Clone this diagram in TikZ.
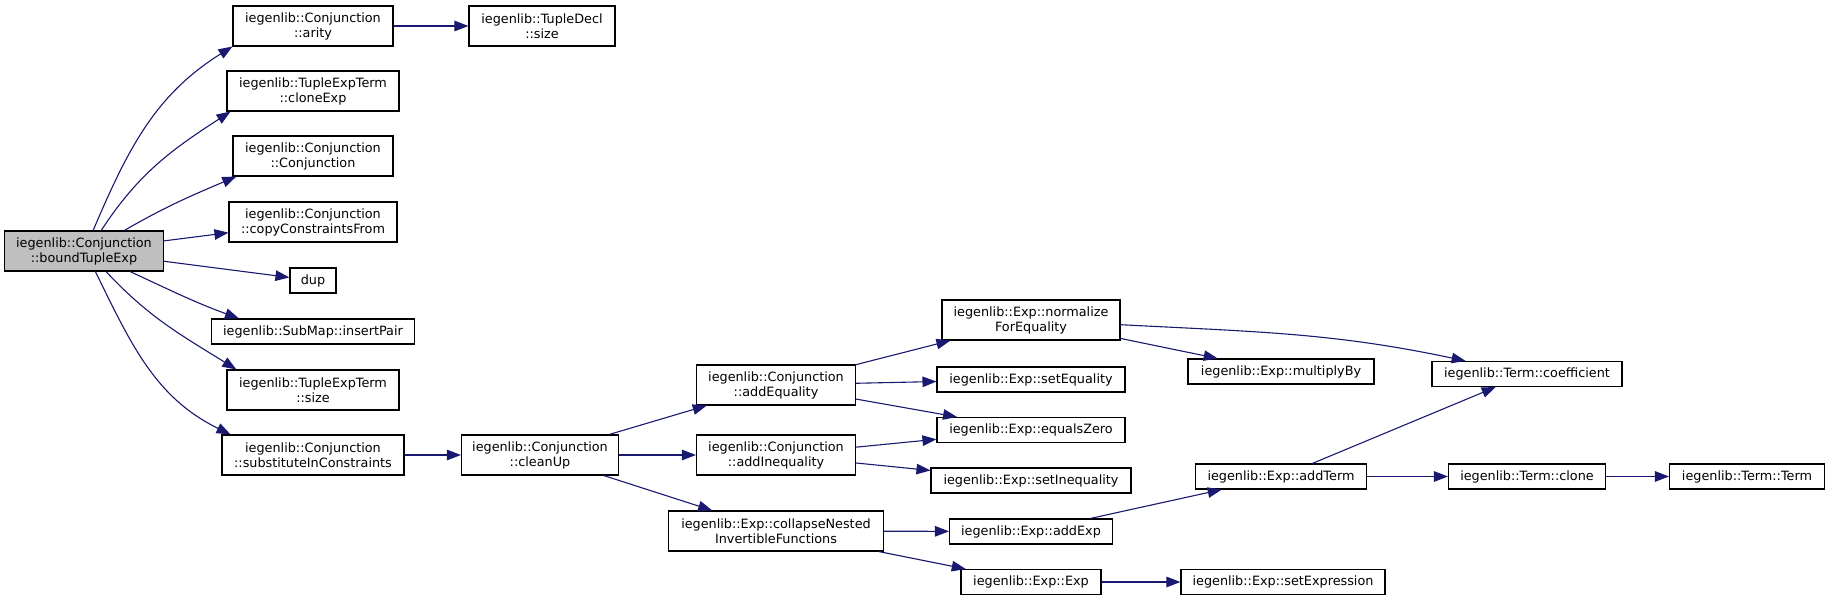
\documentclass[tikz,border=0pt]{standalone}
\usepackage{fontspec}
\setmainfont{DejaVu Sans}
\usetikzlibrary{arrows.meta}
\definecolor{edgeBlue}{RGB}{25,25,112}
\definecolor{curFill}{RGB}{191,191,191}

\begin{document}
\begin{tikzpicture}[
  x=1pt,y=1pt,
  font=\fontsize{12.8}{15}\selectfont,
  fn/.style={draw=black,line width=1.1pt,fill=white,align=center,
             inner sep=0pt,minimum height=25pt},
  fn2/.style={fn,minimum height=40pt},
  cur/.style={fn2,fill=curFill},
  call/.style={draw=edgeBlue,line width=1.1pt,
               -{Triangle[length=14pt,width=10.5pt]}}
]
\useasboundingbox (0,0) rectangle (1831,-601);

% ==========  caller (left)  ==========
\node[cur,minimum width=159pt] (bound) at (84,-251)
  {iegenlib::Conjunction\\::boundTupleExp};

% ==========  column 1  ==========
\node[fn2,minimum width=160pt] (arity)   at (313,-26)  {iegenlib::Conjunction\\::arity};
\node[fn2,minimum width=172pt] (clone)   at (313,-91)  {iegenlib::TupleExpTerm\\::cloneExp};
\node[fn2,minimum width=160pt] (conj)    at (313,-156) {iegenlib::Conjunction\\::Conjunction};
\node[fn2,minimum width=168pt] (copy)    at (313,-222) {iegenlib::Conjunction\\::copyConstraintsFrom};
\node[fn,minimum width=46pt]   (dup)     at (313,-280.5) {dup};
\node[fn,minimum width=203pt]  (insert)  at (313,-331.5) {iegenlib::SubMap::insertPair};
\node[fn2,minimum width=172pt] (tesize)  at (313,-390) {iegenlib::TupleExpTerm\\::size};
\node[fn2,minimum width=182pt] (subst)   at (313,-455) {iegenlib::Conjunction\\::substituteInConstraints};

% ==========  columns 2-3  ==========
\node[fn2,minimum width=146pt] (tdsize)  at (542,-26)  {iegenlib::TupleDecl\\::size};
\node[fn2,minimum width=157pt] (cleanup) at (540,-455) {iegenlib::Conjunction\\::cleanUp};
\node[fn2,minimum width=159pt] (addeq)   at (776,-385) {iegenlib::Conjunction\\::addEquality};
\node[fn2,minimum width=159pt] (addineq) at (776,-455) {iegenlib::Conjunction\\::addInequality};
\node[fn2,minimum width=215pt] (collapse) at (776,-531) {iegenlib::Exp::collapseNested\\InvertibleFunctions};

% ==========  column 4  ==========
\node[fn2,minimum width=178pt] (normalize) at (1031,-320) {iegenlib::Exp::normalize\\ForEquality};
\node[fn,minimum width=188pt]  (seteq)   at (1031,-379.5) {iegenlib::Exp::setEquality};
\node[fn,minimum width=188pt]  (eqzero)  at (1031,-430) {iegenlib::Exp::equalsZero};
\node[fn,minimum width=200pt]  (setineq) at (1031,-480.5) {iegenlib::Exp::setInequality};
\node[fn,minimum width=163pt]  (addexp)  at (1031,-531.5) {iegenlib::Exp::addExp};
\node[fn,minimum width=140pt]  (expexp)  at (1031,-582) {iegenlib::Exp::Exp};

% ==========  columns 5-7  ==========
\node[fn,minimum width=186pt]  (multby)  at (1281,-371.5) {iegenlib::Exp::multiplyBy};
\node[fn,minimum width=171pt]  (addterm) at (1281,-476.5) {iegenlib::Exp::addTerm};
\node[fn,minimum width=204pt]  (setexpr) at (1283,-582) {iegenlib::Exp::setExpression};
\node[fn,minimum width=190pt]  (coeff)   at (1527,-374) {iegenlib::Term::coefficient};
\node[fn,minimum width=157pt]  (tclone)  at (1527,-476.5) {iegenlib::Term::clone};
\node[fn,minimum width=155pt]  (tterm)   at (1747,-476.5) {iegenlib::Term::Term};

% ==========  calls from boundTupleExp  ==========
\draw[call] (bound.66) to[out=67,in=212] (arity.south west);
\draw[call] (bound.50) to[out=57,in=213] (clone.194);
\draw[call] (bound.27) to[out=30,in=203] (conj.195);
\draw[call] (bound) -- (copy);
\draw[call] (bound) -- (dup);
\draw[call] (bound.-24) to[out=-25,in=160] (insert.170);
\draw[call] (bound.-43) to[out=-47,in=148] (tesize.165);
\draw[call] (bound.-61) to[out=-64,in=154] (subst.166);

% ==========  deeper calls  ==========
\draw[call] (arity) -- (tdsize);
\draw[call] (subst) -- (cleanup);
\draw[call] (cleanup) -- (addeq);
\draw[call] (cleanup) -- (addineq);
\draw[call] (cleanup) -- (collapse);
\draw[call] (addeq) -- (normalize);
\draw[call] (addeq) -- (seteq);
\draw[call] (addeq) -- (eqzero);
\draw[call] (addineq) -- (eqzero);
\draw[call] (addineq) -- (setineq);
\draw[call] (collapse) -- (addexp);
\draw[call] (collapse) -- (expexp);
\draw[call] (normalize) -- (multby);
\draw[call] (normalize.-3) to[out=-3,in=168] (coeff.168);
\draw[call] (addexp) -- (addterm);
\draw[call] (addterm) -- (coeff);
\draw[call] (addterm) -- (tclone);
\draw[call] (tclone) -- (tterm);
\draw[call] (expexp) -- (setexpr);

\end{tikzpicture}
\end{document}
